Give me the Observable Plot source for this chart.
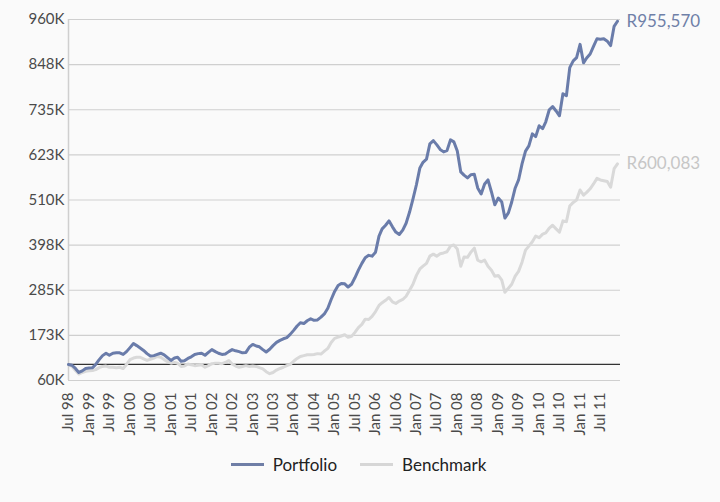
<!DOCTYPE html>
<html>
<head>
<meta charset="utf-8">
<script src="https://cdn.jsdelivr.net/npm/d3@7"></script>
<script src="https://cdn.jsdelivr.net/npm/@observablehq/plot@0.6"></script>
<style>
  html, body { margin: 0; padding: 0; background: #fafafa; }
  #chart { width: 720px; }
  .legend { display: flex; justify-content: center; align-items: center; font-family: Lato, "Open Sans", sans-serif; font-size: 17px; color: #222; margin-top: 6px; margin-left: -3px; }
  .legend .item { display: flex; align-items: center; margin: 0 11.5px; }
  .legend .sw { width: 33px; height: 3px; margin-right: 9px; }
</style>
</head>
<body>
<div id="chart"></div>
<script>
// ---- data (values in thousands of Rand) ----
const startMonth = new Date(Date.UTC(1998, 6, 1));
const endMonth = new Date(Date.UTC(2011, 11, 1));

const portfolio = [
  100, 98, 90, 80, 84, 90, 91, 92, 100, 112, 122, 128, 123, 128, 129, 129, 125, 132, 142, 152,
  147, 141, 135, 127, 121, 122, 125, 128, 124, 117, 110, 116, 118, 108, 109, 115, 119, 125, 127, 128,
  123, 130, 137, 132, 128, 125, 126, 132, 137, 134, 132, 129, 130, 143, 150, 146, 144, 137, 131, 138,
  147, 155, 160, 164, 167, 175, 185, 196, 204, 202, 209, 214, 210, 211, 218, 226, 240, 262, 282, 297,
  302, 301, 293, 300, 316, 335, 352, 366, 372, 370, 380, 420, 438, 447, 458, 443, 430, 424, 435, 452,
  480, 512, 548, 590, 604, 612, 650, 658, 648, 636, 630, 633, 660, 655, 632, 580, 572, 565, 573, 574,
  540, 525, 550, 560, 530, 498, 515, 505, 465, 478, 505, 540, 560, 600, 632, 645, 675, 668, 695, 688,
  705, 735, 743, 732, 720, 775, 770, 840, 857, 865, 898, 852, 864, 874, 893, 912, 911, 912, 906, 895,
  943, 955.57
];

const benchmark = [
  100, 95, 85, 76, 80, 83, 84, 85, 87, 92, 95, 96, 93, 93, 92, 93, 90, 100, 112, 116,
  118, 118, 114, 110, 113, 116, 120, 118, 112, 107, 103, 105, 103, 95, 96, 101, 99, 97, 98, 99,
  93, 97, 102, 103, 103, 102, 105, 110, 101, 96, 93, 95, 97, 95, 96, 95, 92, 89, 82, 77,
  80, 86, 90, 93, 97, 100, 108, 115, 120, 122, 124, 124, 125, 127, 126, 133, 140, 155, 165, 168,
  171, 174, 168, 170, 180, 192, 200, 213, 212, 220, 232, 247, 254, 260, 267, 256, 252, 258, 262, 270,
  285, 300, 322, 338, 345, 352, 370, 375, 370, 376, 378, 381, 395, 398, 388, 345, 368, 367, 380, 390,
  360, 356, 360, 345, 335, 320, 322, 310, 280, 290, 300, 320, 332, 355, 385, 395, 406, 420, 416, 425,
  428, 440, 447, 438, 430, 458, 456, 495, 504, 510, 535, 522, 529, 538, 550, 564, 560, 558, 556, 542,
  588, 600.083
];

const yTicks = [60, 172.5, 285, 397.5, 510, 622.5, 735, 847.5, 960];
const yTickLabels = ["60K", "173K", "285K", "398K", "510K", "623K", "735K", "848K", "960K"];
const baseline = 100;
const seriesNames = ["Portfolio", "Benchmark"];
const endLabels = ["R955,570", "R600,083"];
const colors = ["#6a7caa", "#d9d9d9"];
const labelColors = ["#6f80a8", "#c6c6c6"];

// ---- build table ----
const months = d3.utcMonth.range(startMonth, d3.utcMonth.offset(endMonth, 1));
const rows = [];
months.forEach((d, i) => {
  rows.push({date: d, value: portfolio[i], series: seriesNames[0]});
  rows.push({date: d, value: benchmark[i], series: seriesNames[1]});
});
const xTicks = d3.utcMonth.every(6).range(startMonth, endMonth);
const fmt = d3.utcFormat("%b %y");
const lastRows = [
  {date: months[months.length - 1], value: portfolio[portfolio.length - 1], label: endLabels[0], c: labelColors[0]},
  {date: months[months.length - 1], value: benchmark[benchmark.length - 1], label: endLabels[1], c: labelColors[1]}
];

const chart = Plot.plot({
  width: 720,
  height: 448,
  marginLeft: 68,
  marginRight: 100,
  marginTop: 19,
  marginBottom: 68,
  style: {background: "#fafafa", fontFamily: "Lato, 'Open Sans', sans-serif", fontSize: "15px", color: "#4a4a4a"},
  x: {type: "utc", domain: [startMonth, new Date(Date.UTC(2011, 11, 28))]},
  y: {domain: [60, 960]},
  marks: [
    Plot.ruleY(yTicks, {stroke: "#cfcfcf", strokeWidth: 1.2}),
    Plot.ruleX([startMonth], {y1: 60, y2: 960, stroke: "#cfcfcf", strokeWidth: 1.5}),
    Plot.ruleY([baseline], {stroke: "#333", strokeWidth: 1.2}),
    Plot.axisY({ticks: yTicks, tickFormat: (d, i) => yTickLabels[i], tickSize: 0, tickPadding: 4, label: null, fontSize: 15}),
    Plot.axisX({ticks: xTicks, tickFormat: fmt, tickSize: 0, tickPadding: 12, tickRotate: -90, label: null, fontSize: 15}),
    Plot.line(rows.filter(r => r.series === seriesNames[1]), {x: "date", y: "value", stroke: colors[1], strokeWidth: 3, strokeLinejoin: "round"}),
    Plot.line(rows.filter(r => r.series === seriesNames[0]), {x: "date", y: "value", stroke: colors[0], strokeWidth: 3, strokeLinejoin: "round"}),
    Plot.text(lastRows, {x: "date", y: "value", text: "label", fill: "c", dx: 9, dy: 0, textAnchor: "start", fontSize: 17})
  ]
});
document.getElementById("chart").appendChild(chart);

const legend = document.createElement("div");
legend.className = "legend";
seriesNames.forEach((n, i) => {
  const it = document.createElement("div");
  it.className = "item";
  const sw = document.createElement("span");
  sw.className = "sw";
  sw.style.background = i === 0 ? "#6f7ea6" : "#d6d6d6";
  const t = document.createElement("span");
  t.textContent = n;
  it.appendChild(sw); it.appendChild(t);
  legend.appendChild(it);
});
document.getElementById("chart").appendChild(legend);
</script>
</body>
</html>
